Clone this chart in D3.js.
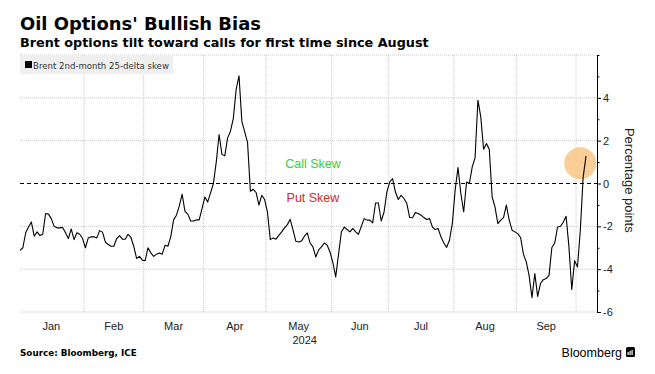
<!DOCTYPE html>
<html>
<head>
<meta charset="utf-8">
<title>Oil Options' Bullish Bias</title>
<script src="https://d3js.org/d3.v7.min.js"></script>
<style>
  body { margin: 0; background: #fff; }
  text { font-family: "Liberation Sans", Arial, sans-serif; }
  .bold { font-family: "DejaVu Sans", Verdana, sans-serif; font-weight: bold; }
  .grid line { stroke: #c8c8c8; stroke-dasharray: 1,1; }
</style>
</head>
<body>
<svg id="chart"></svg>
<script>
// Brent 2nd-month 25-delta skew, one value per weekday starting 1 Jan 2024
var startDate = new Date(2024, 0, 1);
var skew = [
  -3.12, -3.0, -2.3, -2.03, -1.8, -2.46, -2.26, -2.43, -2.37, -1.4,
  -1.43, -1.64, -2.0, -2.07, -2.07, -2.05, -2.3, -2.57, -2.12, -2.62,
  -2.3, -2.37, -2.57, -3.0, -2.54, -2.49, -2.49, -2.54, -2.2, -2.27,
  -2.73, -2.85, -2.93, -2.93, -2.57, -2.43, -2.6, -2.6, -2.37, -2.52,
  -2.93, -3.5, -3.4, -3.58, -3.6, -3.0, -3.24, -3.4, -3.3, -3.24,
  -3.3, -2.88, -2.93, -2.49, -1.7, -1.48, -1.06, -0.5, -1.3, -1.43,
  -1.75, -1.75, -1.7, -1.7, -1.17, -0.63, -0.86, -0.44, 0.0, 1.0,
  2.29, 1.36, 1.29, 2.13, 2.44, 3.04, 4.4, 5.03, 2.9, 2.41,
  1.92, -0.36, -0.27, -0.42, -1.01, -0.55, -0.75, -1.33, -2.62, -2.54,
  -2.6, -2.42, -2.26, -2.07, -1.92, -1.67, -2.18, -2.7, -2.73, -2.68,
  -2.46, -2.31, -2.78, -2.96, -3.43, -3.1, -2.96, -2.78, -2.88, -3.2,
  -3.7, -4.36, -3.3, -2.26, -2.03, -2.15, -2.26, -2.1, -2.26, -2.37,
  -2.0, -1.64, -1.71, -1.71, -1.84, -0.91, -0.91, -1.75, -1.33, -0.39,
  0.07, 0.23, -0.4, -0.75, -0.55, -0.7, -0.93, -1.59, -1.6, -1.36,
  -1.4, -1.48, -1.59, -1.68, -1.64, -2.03, -2.15, -2.1, -2.49, -2.78,
  -2.98, -2.65, -1.87, -0.3, 0.75, -0.47, -1.33, 0.07, 0.0, 0.78,
  1.2, 3.89, 3.11, 1.6, 1.87, 1.59, -0.63, -1.09, -1.87, -1.71,
  -1.59, -1.01, -1.71, -2.18, -2.26, -2.34, -2.52, -3.3, -3.66, -4.3,
  -5.33, -4.21, -5.27, -4.67, -4.49, -4.44, -4.29, -2.99, -2.78, -2.03,
  -2.0, -1.81, -1.53, -2.96, -4.95, -3.6, -3.9, -2.18, 0.3, 1.28
];
var monthLabels = ["Jan", "Feb", "Mar", "Apr", "May", "Jun", "Jul", "Aug", "Sep"];
var yearLabel = "2024";
var yearUnder = "May";
var yLabelTicks = [-6, -4, -2, 0, 2, 4];
var yMinorTicks = [-5, -3, -1, 1, 3, 5, 6];
var annotations = [
  {text: "Call Skew", index: 103, value: 0.72, color: "#3dcc3d"},
  {text: "Put Skew", index: 103, value: -0.87, color: "#d42a2a"}
];
var highlight = {index: 197, value: 0.95};

var width = 655, height = 374;
var plotLeft = 20, plotRight = 597, plotTop = 55, plotBottom = 312;

var svg = d3.select("#chart").attr("width", width).attr("height", height);

// weekday dates for each value
var dates = [];
var d = new Date(startDate);
while (dates.length < skew.length) {
  if (d.getDay() !== 0 && d.getDay() !== 6) dates.push(new Date(d));
  d.setDate(d.getDate() + 1);
}

var x = d3.scaleLinear().domain([0, skew.length - 1]).range([20, 586]);
var y = d3.scaleLinear().domain([-6, 6]).range([plotBottom, plotTop]);

// month boundaries (half way between last day of a month and first of next)
var bounds = [-0.5];
for (var i = 1; i < dates.length; i++) {
  if (dates[i].getMonth() !== dates[i - 1].getMonth()) bounds.push(i - 0.5);
}

// gridlines
var grid = svg.append("g").attr("class", "grid");
grid.selectAll(".h").data(y.ticks(6))
  .enter().append("line")
  .attr("x1", plotLeft).attr("x2", plotRight)
  .attr("y1", v => y(v)).attr("y2", v => y(v))
  .style("display", v => v === 0 ? "none" : null);
grid.selectAll(".v").data(bounds.slice(1))
  .enter().append("line")
  .attr("x1", b => x(b)).attr("x2", b => x(b))
  .attr("y1", plotTop).attr("y2", plotBottom);

// zero line
svg.append("line")
  .attr("x1", plotLeft).attr("x2", plotRight)
  .attr("y1", y(0)).attr("y2", y(0))
  .attr("stroke", "#000").attr("stroke-dasharray", "4,3");

// highlight circle
svg.append("circle")
  .attr("cx", x(highlight.index)).attr("cy", y(highlight.value))
  .attr("r", 16)
  .attr("fill", "#f9c98a").attr("opacity", 0.9);

// line
svg.append("path")
  .datum(skew)
  .attr("fill", "none")
  .attr("stroke", "#000")
  .attr("stroke-width", 1.1)
  .attr("stroke-linejoin", "round")
  .attr("d", d3.line().x((v, i) => x(i)).y(v => y(v)));

// annotations
svg.selectAll(".note").data(annotations)
  .enter().append("text")
  .attr("x", a => x(a.index)).attr("y", a => y(a.value))
  .attr("text-anchor", "middle")
  .style("font-size", "12.5px")
  .attr("fill", a => a.color)
  .text(a => a.text);

// right axis
var yAxis = svg.append("g")
  .attr("transform", "translate(" + plotRight + ",0)")
  .call(d3.axisRight(y).tickValues(yLabelTicks).tickSize(4).tickSizeOuter(0)
        .tickPadding(2).tickFormat(v => String(v)));
yAxis.select(".domain").attr("stroke", "#000");
yAxis.selectAll("text").style("font-size", "11px").attr("fill", "#222")
  .style("font-family", "'Liberation Sans', Arial, sans-serif");
svg.append("g")
  .attr("transform", "translate(" + plotRight + ",0)")
  .call(d3.axisRight(y).tickValues(yMinorTicks).tickSize(2.5).tickFormat(""))
  .select(".domain").remove();

svg.append("text")
  .attr("transform", "translate(628," + y(0.15) + ") rotate(90)")
  .attr("text-anchor", "middle")
  .attr("dominant-baseline", "middle")
  .style("font-size", "13px")
  .attr("fill", "#222")
  .text("Percentage points");

// month labels
var months = monthLabels.map(function(m, k) {
  return {label: m, mid: (bounds[k] + bounds[k + 1]) / 2};
});
svg.selectAll(".month").data(months)
  .enter().append("text")
  .attr("x", m => x(m.mid)).attr("y", 330)
  .attr("text-anchor", "middle")
  .style("font-size", "11px").attr("fill", "#222")
  .text(m => m.label);
var under = months.find(m => m.label === yearUnder);
svg.append("text")
  .attr("x", x(under.mid) + 6).attr("y", 344)
  .attr("text-anchor", "middle")
  .style("font-size", "11px").attr("fill", "#222")
  .text(yearLabel);

function fit(sel, target) {
  var w = sel.node().getComputedTextLength();
  var fs = parseFloat(sel.style("font-size"));
  sel.style("font-size", (fs * target / w) + "px");
}

// titles
fit(svg.append("text").attr("class", "bold").attr("x", 20).attr("y", 30)
  .style("font-size", "17px").text("Oil Options' Bullish Bias"), 241);
fit(svg.append("text").attr("class", "bold").attr("x", 20).attr("y", 47)
  .style("font-size", "13px").text("Brent options tilt toward calls for first time since August"), 409);

// legend
svg.append("rect").attr("x", 20).attr("y", 56).attr("width", 153).attr("height", 18)
  .attr("fill", "#efefef");
svg.append("rect").attr("x", 25).attr("y", 61).attr("width", 7).attr("height", 7)
  .attr("fill", "#000");
fit(svg.append("text").attr("x", 33).attr("y", 68.5)
  .style("font-size", "10px").attr("fill", "#333")
  .style("font-family", "'DejaVu Sans', sans-serif")
  .text("Brent 2nd-month 25-delta skew"), 136);

// footer
fit(svg.append("text").attr("class", "bold").attr("x", 20).attr("y", 356)
  .style("font-size", "9px").text("Source: Bloomberg, ICE"), 117);
svg.append("text").attr("x", 622).attr("y", 357)
  .attr("text-anchor", "end")
  .style("font-size", "12.5px").attr("fill", "#000")
  .text("Bloomberg");
svg.append("rect").attr("x", 626).attr("y", 347).attr("width", 9).attr("height", 10)
  .attr("rx", 1.5).attr("fill", "#000");
svg.selectAll(".bar-icon").data([1.5, 3.5, 5.5])
  .enter().append("rect")
  .attr("x", o => 626 + o).attr("y", (o, k) => 352 - k)
  .attr("width", 1.2).attr("height", (o, k) => 3 + k)
  .attr("fill", "#fff");
</script>
</body>
</html>
